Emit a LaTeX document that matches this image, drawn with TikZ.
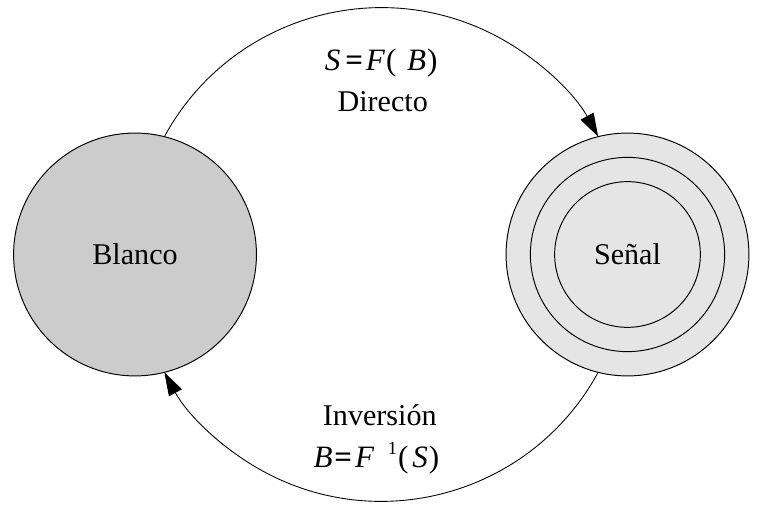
\documentclass[tikz,border=0pt]{standalone}
\usepackage{fontspec}
\setmainfont{Liberation Serif}
\usetikzlibrary{arrows.meta}
\begin{document}
\begin{tikzpicture}[x=1pt,y=1pt,
  lbl/.style={font=\fontsize{31}{37}\selectfont, inner sep=0pt},
  eqf/.style={font=\fontsize{32}{38}\selectfont, inner sep=0pt},
  blob/.style={circle, draw=black, line width=1pt, minimum size=250pt, inner sep=0pt, outer sep=0pt},
  ring/.style={draw=black, line width=1pt},
  conn/.style={line width=0.9pt, -{Triangle[length=24pt,width=15pt]}}]
\useasboundingbox (0,0) rectangle (785.5,523);
\node[blob, fill=gray!40, lbl] (blanco) at (139,261) {Blanco};
\node[blob, fill=gray!20] (senal) at (646,261) {};
\draw[ring] (senal.center) circle[radius=100];
\draw[ring] (senal.center) circle[radius=75];
\node[lbl] (senaltxt) at (senal.center) {Señal};
\draw[conn] (blanco.76) arc[start angle=151.5, end angle=28.5, radius=254.1];
\draw[conn] (senal.-104) arc[start angle=-28.5, end angle=-151.5, radius=254.1];
\node[eqf, anchor=base] (eq1) at (392.5,450) {\textit{S}\hspace{5pt}\textbf{=}\hspace{3pt}\textit{F}\hspace{1pt}(\hspace{11pt}\textit{B}\hspace{1pt})};
\node[lbl, anchor=base] (dir) at (394,408) {Directo};
\node[lbl, anchor=base] (inv) at (391,85) {Inversión};
\node[eqf, anchor=base] (eq2) at (387.5,42) {\textit{B}\hspace{2pt}\textbf{=}\hspace{3pt}\textit{F}\hspace{14pt}\raisebox{13pt}{\fontsize{19}{19}\selectfont 1}\hspace{1pt}(\hspace{4pt}\textit{S}\hspace{1pt})};
\end{tikzpicture}
\end{document}
